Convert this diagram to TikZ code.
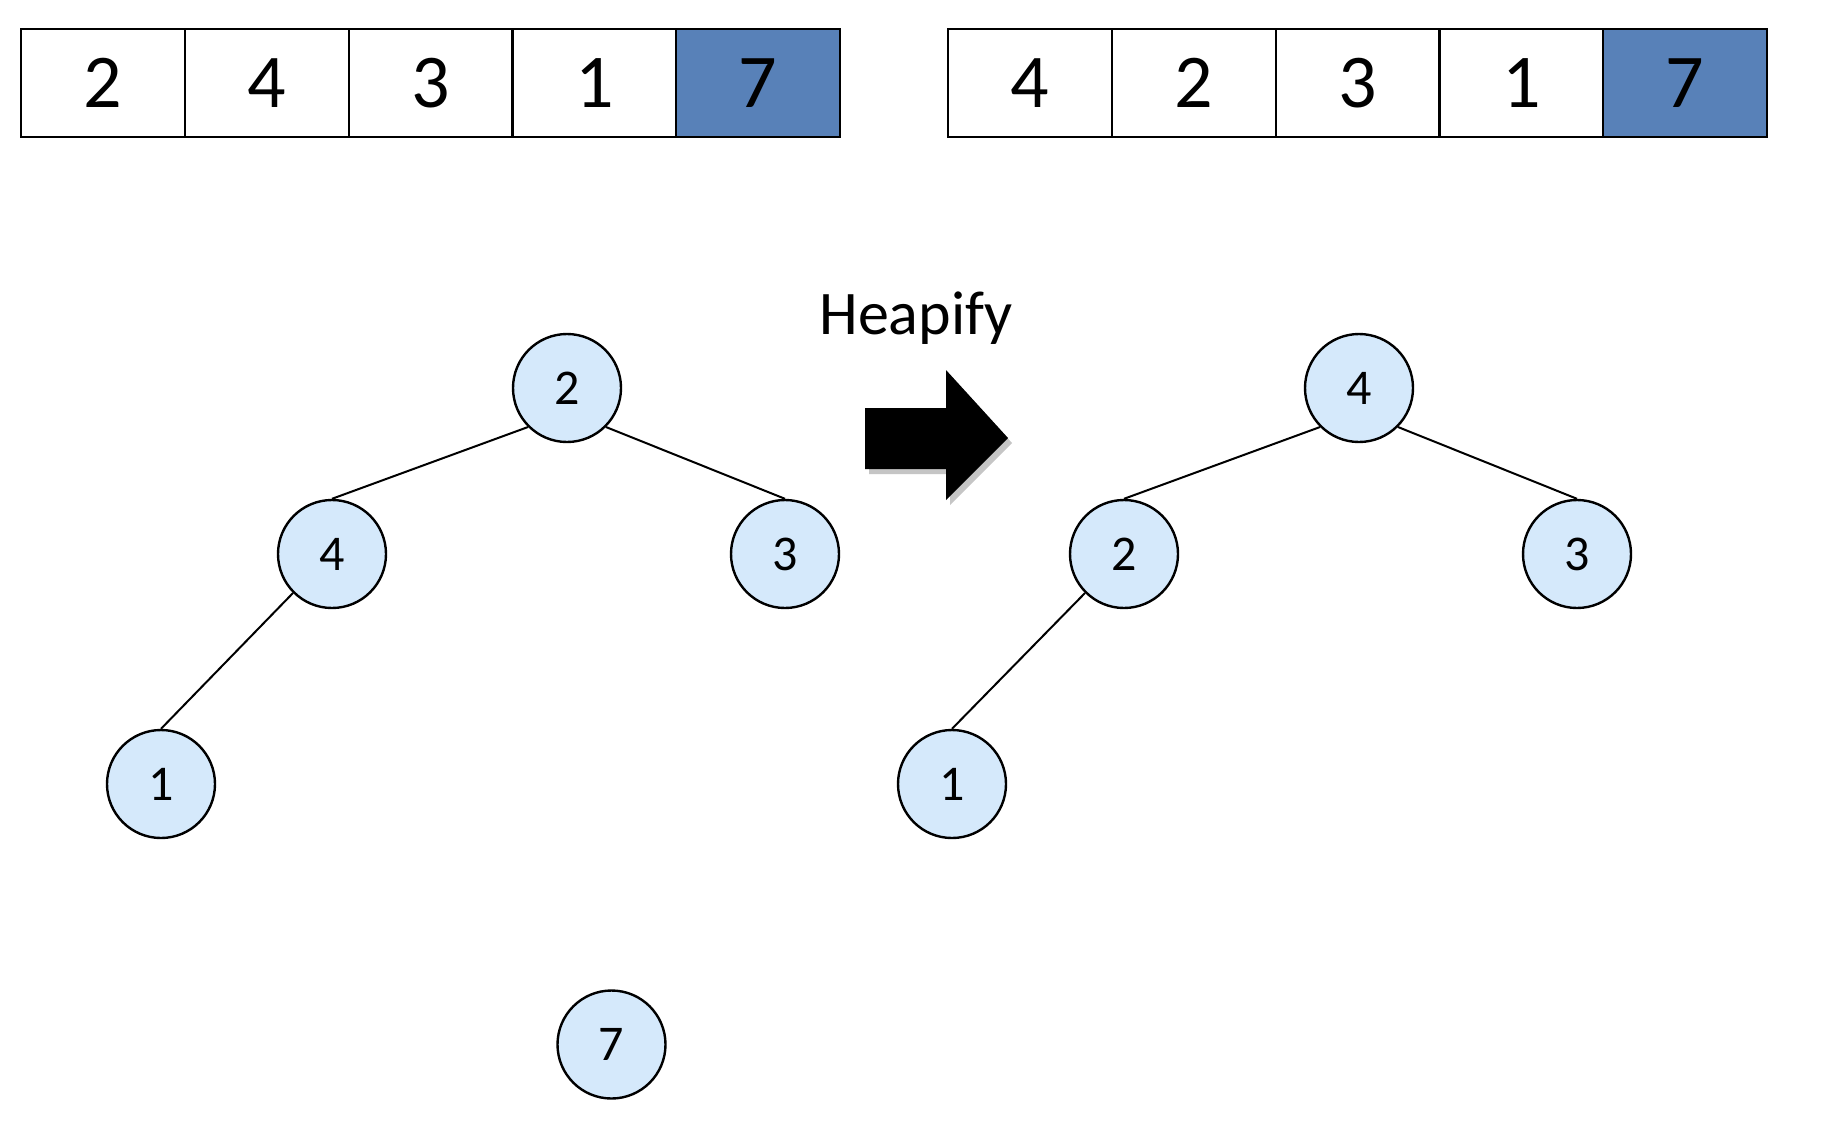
\documentclass[tikz,border=0pt]{standalone}
\usepackage{fontspec}
\setmainfont{Carlito}
\definecolor{nodefill}{HTML}{D5E9FB}
\definecolor{cellblue}{HTML}{5881B8}
\begin{document}
\begin{tikzpicture}[x=0.5pt,y=-0.5pt,
  cell/.style={draw=black,line width=1.1pt,rectangle,minimum width=81.9pt,minimum height=54pt,inner sep=0pt,font=\fontsize{38}{40}\selectfont},
  hot/.style={cell,fill=cellblue},
  tnode/.style={draw=black,line width=1.2pt,circle,fill=nodefill,minimum size=54pt,inner sep=0pt,font=\fontsize{25}{27}\selectfont},
  edge/.style={line width=1pt}]
\useasboundingbox (0,0) rectangle (1840,1130);
\fill[white] (0,0) rectangle (1840,1130);

% array before heapify
\node[cell] (a1) at (102.9,83) {2};
\node[cell] (a2) at (266.7,83) {4};
\node[cell] (a3) at (430.5,83) {3};
\node[cell] (a4) at (594.3,83) {1};
\node[hot]  (a5) at (758.1,83) {7};

% array after heapify
\node[cell] (b1) at (1029.9,83) {4};
\node[cell] (b2) at (1193.7,83) {2};
\node[cell] (b3) at (1357.5,83) {3};
\node[cell] (b4) at (1521.3,83) {1};
\node[hot]  (b5) at (1685.1,83) {7};

% tree before heapify
\node[tnode] (l2) at (567,388) {2};
\node[tnode] (l4) at (332,554) {4};
\node[tnode] (l3) at (785,554) {3};
\node[tnode] (l1) at (161,784) {1};
\node[tnode] (l7) at (611.5,1044.5) {7};
\draw[edge] (l2.south west) -- (l4.north);
\draw[edge] (l2.south east) -- (l3.north);
\draw[edge] (l4.south west) -- (l1.north);

% tree after heapify
\node[tnode] (r4) at (1359,388) {4};
\node[tnode] (r2) at (1124,554) {2};
\node[tnode] (r3) at (1577,554) {3};
\node[tnode] (r1) at (952,784) {1};
\draw[edge] (r4.south west) -- (r2.north);
\draw[edge] (r4.south east) -- (r3.north);
\draw[edge] (r2.south west) -- (r1.north);

% label and block arrow
\node[font=\fontsize{31}{33}\selectfont] (lbl) at (916,318) {Heapify};
\fill[black!45,opacity=0.5] (869,413) -- (950,413) -- (950,375) -- (1012,443) -- (950,505) -- (950,474) -- (869,474) -- cycle;
\fill[black] (865,408) -- (946,408) -- (946,370) -- (1008,438) -- (946,500) -- (946,469) -- (865,469) -- cycle;
\end{tikzpicture}
\end{document}
